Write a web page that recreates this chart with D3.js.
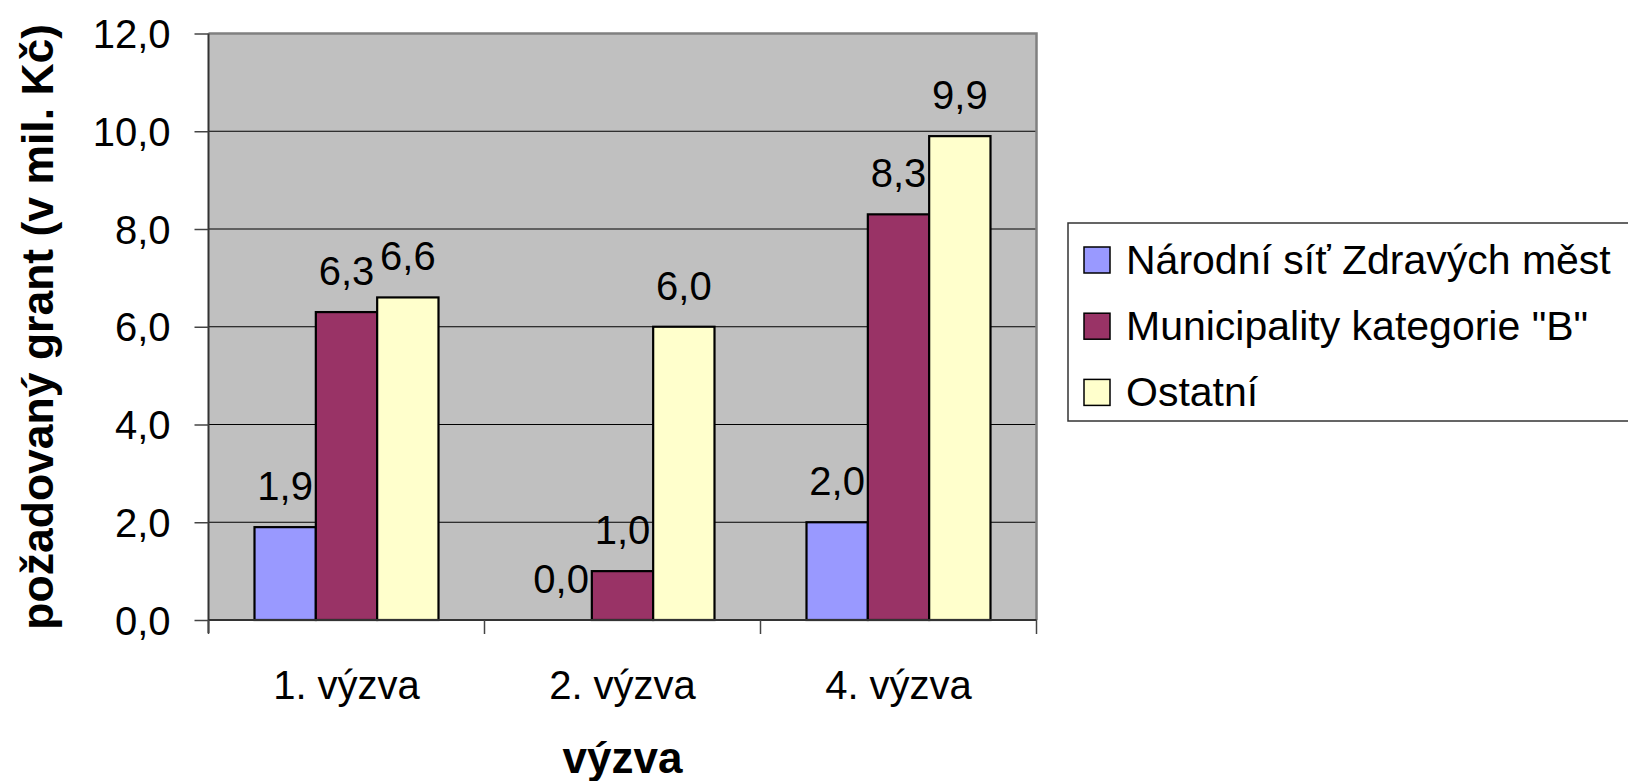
<!DOCTYPE html>
<html>
<head>
<meta charset="utf-8">
<script src="https://cdn.jsdelivr.net/npm/d3@7"></script>
<style>
  body { margin: 0; background: #fff; }
  text { font-family: "Liberation Sans", Arial, sans-serif; fill: #000; }
</style>
</head>
<body>
<div id="chart"></div>
<script>
var categories = ["1. výzva", "2. výzva", "4. výzva"];
var seriesNames = ["Národní síť Zdravých měst", "Municipality kategorie \"B\"", "Ostatní"];
var seriesColors = ["#9999FF", "#993366", "#FFFFCC"];
var narodniSit = [1.9, 0.0, 2.0];
var municipalityB = [6.3, 1.0, 8.3];
var ostatni = [6.6, 6.0, 9.9];
var yTicks = [0, 2, 4, 6, 8, 10, 12];

function drawChart() {
  "use strict";
  var width = 1628;
  var height = 781;

  var plotLeft = 208.5;
  var plotRight = 1036.5;
  var plotTop = 33.5;
  var plotBottom = 620;

  var czech = d3.formatLocale({decimal: ",", thousands: " ", grouping: [3], currency: ["", " Kč"]});
  var fmt = czech.format(".1f");

  var seriesValues = [narodniSit, municipalityB, ostatni];

  var svg = d3.select("#chart").append("svg").
    attr("width", width).
    attr("height", height);

  var x = d3.scaleBand().
    domain(categories).
    range([plotLeft, plotRight]).
    padding(0);

  var xInner = d3.scaleBand().
    domain(d3.range(seriesNames.length)).
    range([0, x.bandwidth()]).
    paddingInner(0).
    paddingOuter(0.75);

  var y = d3.scaleLinear().
    domain([0, 12]).
    range([plotBottom, plotTop]);

  // plot background
  svg.append("rect").
    attr("x", plotLeft).
    attr("y", plotTop).
    attr("width", plotRight - plotLeft).
    attr("height", plotBottom - plotTop).
    style("fill", "#C0C0C0");

  // gridlines
  svg.append("g").
    selectAll("line").
    data(yTicks.filter(function(d) { return d > 0 && d < 12; })).
    join("line").
    attr("x1", plotLeft).
    attr("x2", plotRight).
    attr("y1", function(d) { return y(d); }).
    attr("y2", function(d) { return y(d); }).
    style("stroke", "#000").
    style("stroke-width", 1.2);

  // top and right border
  svg.append("path").
    attr("d", "M" + plotLeft + "," + y(12) + "H" + plotRight + "V" + plotBottom).
    style("fill", "none").
    style("stroke", "#808080").
    style("stroke-width", 2.5);

  // bars
  var groups = svg.append("g").
    selectAll("g").
    data(categories).
    join("g").
    attr("transform", function(d) { return "translate(" + x(d) + ",0)"; });

  groups.selectAll("rect").
    data(function(d, i) {
      return seriesValues.map(function(vals, s) { return {s: s, v: vals[i]}; });
    }).
    join("rect").
    filter(function(d) { return d.v > 0; }).
    attr("x", function(d) { return xInner(d.s); }).
    attr("y", function(d) { return y(d.v); }).
    attr("width", xInner.bandwidth()).
    attr("height", function(d) { return y(0) - y(d.v); }).
    style("fill", function(d) { return seriesColors[d.s]; }).
    style("stroke", "#000").
    style("stroke-width", 2.2);

  // data labels
  groups.selectAll("text.value").
    data(function(d, i) {
      return seriesValues.map(function(vals, s) { return {s: s, v: vals[i]}; });
    }).
    join("text").
    attr("class", "value").
    attr("x", function(d) { return xInner(d.s) + xInner.bandwidth() / 2; }).
    attr("y", function(d) { return y(d.v) - 27; }).
    attr("text-anchor", "middle").
    style("font-size", "40px").
    text(function(d) { return fmt(d.v); });

  // y axis
  var yAxis = svg.append("g").
    attr("transform", "translate(" + plotLeft + ",0)").
    call(d3.axisLeft(y).tickValues(yTicks).tickSize(14).tickPadding(24).tickFormat(fmt));
  yAxis.select(".domain").
    attr("d", "M0," + plotTop + "V" + (plotBottom + 13)).
    style("stroke", "#333").
    style("stroke-width", 2);
  yAxis.selectAll(".tick line").
    style("stroke", "#444").
    style("stroke-width", 1.5);
  yAxis.selectAll(".tick text").
    attr("dy", "0.35em").
    style("font-size", "40px").
    style("font-family", "'Liberation Sans', Arial, sans-serif");

  // x axis
  var xAxis = svg.append("g").
    attr("transform", "translate(0," + plotBottom + ")").
    call(d3.axisBottom(x).tickSize(0).tickPadding(51));
  xAxis.select(".domain").
    attr("d", "M" + plotLeft + ",0H" + plotRight).
    style("stroke", "#333").
    style("stroke-width", 2);
  xAxis.selectAll(".tick text").
    style("font-size", "40px").
    style("font-family", "'Liberation Sans', Arial, sans-serif");

  var boundaries = categories.map(function(d) { return x(d); }).concat([x(categories[categories.length - 1]) + x.bandwidth()]);
  xAxis.append("g").
    selectAll("line").
    data(boundaries).
    join("line").
    attr("x1", function(d) { return d; }).
    attr("x2", function(d) { return d; }).
    attr("y1", 0).
    attr("y2", 14).
    style("stroke", "#444").
    style("stroke-width", 1.5);

  // axis titles
  svg.append("text").
    attr("transform", "translate(53," + ((plotTop + plotBottom) / 2) + ") rotate(-90)").
    attr("text-anchor", "middle").
    style("font-size", "44.5px").
    style("font-weight", "bold").
    text("požadovaný grant (v mil. Kč)");

  svg.append("text").
    attr("x", (plotLeft + plotRight) / 2).
    attr("y", 773).
    attr("text-anchor", "middle").
    style("font-size", "44px").
    style("font-weight", "bold").
    text("výzva");

  // legend
  var legend = svg.append("g").
    attr("transform", "translate(1068,223)");
  legend.append("rect").
    attr("x", 0).
    attr("y", 0).
    attr("width", 600).
    attr("height", 198).
    style("fill", "#fff").
    style("stroke", "#333").
    style("stroke-width", 1.5);

  var items = legend.selectAll("g.item").
    data(seriesNames).
    join("g").
    attr("class", "item").
    attr("transform", function(d, i) { return "translate(16," + (24 + i * 66.2) + ")"; });
  items.append("rect").
    attr("width", 26).
    attr("height", 26).
    style("fill", function(d, i) { return seriesColors[i]; }).
    style("stroke", "#000").
    style("stroke-width", 1.5);
  items.append("text").
    attr("x", 42).
    attr("y", 26.5).
    style("font-size", "41px").
    text(function(d) { return d; });
}

drawChart();
</script>
</body>
</html>
